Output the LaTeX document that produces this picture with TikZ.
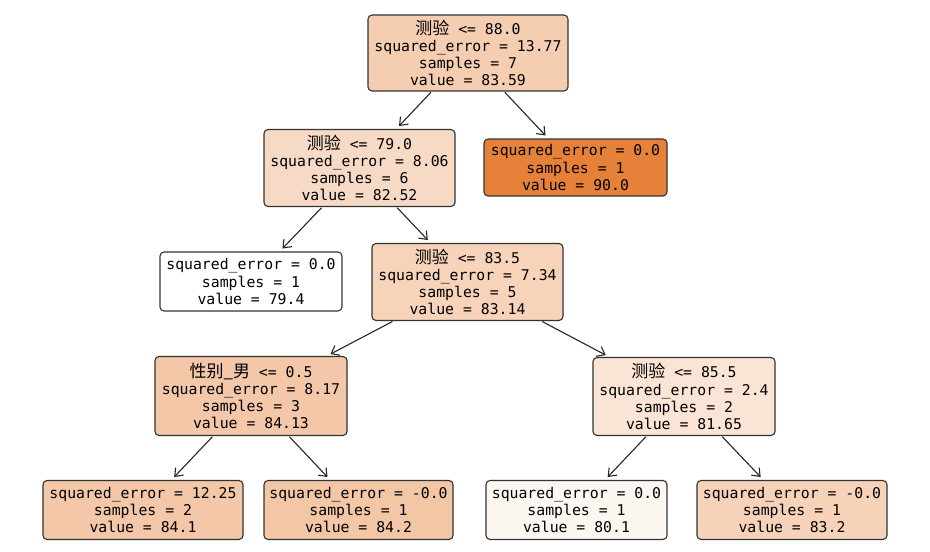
\documentclass[tikz,border=0pt]{standalone}
\usepackage{fontspec}
\setmainfont{DejaVu Sans Mono}
\newfontfamily\cjkfam{Noto Sans CJK SC}
\newcommand{\zh}[1]{{\cjkfam\fontsize{17}{17.2}\selectfont #1}}
\usetikzlibrary{arrows.meta}
\definecolor{cRoot}{HTML}{F5CDB1}
\definecolor{cA}{HTML}{F7DAC5}
\definecolor{cB}{HTML}{E58139}
\definecolor{cC}{HTML}{FFFFFF}
\definecolor{cD}{HTML}{F6D3B9}
\definecolor{cE}{HTML}{F3C7A7}
\definecolor{cF}{HTML}{FAE4D5}
\definecolor{cG}{HTML}{F3C7A7}
\definecolor{cH}{HTML}{F3C6A5}
\definecolor{cI}{HTML}{FDF7F2}
\definecolor{cJ}{HTML}{F6D2B8}
\definecolor{edge}{HTML}{333333}
\tikzset{
  treenode/.style={draw=edge, line width=1.1pt, rounded corners=4pt, inner sep=0pt,
    align=center, font=\fontsize{14.8}{17.2}\selectfont},
  treearrow/.style={-{Straight Barb[length=7pt,width=11pt]}, line width=1.1pt, draw=black!85, shorten >=4pt, shorten <=1pt}
}
\begin{document}
\begin{tikzpicture}[x=1pt,y=-1pt]
\useasboundingbox (0,0) rectangle (930,552);
\node[treenode, fill=cRoot, minimum width=200pt, minimum height=76pt] (root) at (468,53)
  {\zh{测验} <= 88.0\\squared\_error = 13.77\\samples = 7\\value = 83.59};
\node[treenode, fill=cA, minimum width=191pt, minimum height=77pt] (A) at (359.5,168)
  {\zh{测验} <= 79.0\\squared\_error = 8.06\\samples = 6\\value = 82.52};
\node[treenode, fill=cB, minimum width=183pt, minimum height=57pt] (B) at (575.5,167.5)
  {squared\_error = 0.0\\samples = 1\\value = 90.0};
\node[treenode, fill=cC, minimum width=182pt, minimum height=59pt] (C) at (251,281.5)
  {squared\_error = 0.0\\samples = 1\\value = 79.4};
\node[treenode, fill=cD, minimum width=191pt, minimum height=77pt] (D) at (467.5,282)
  {\zh{测验} <= 83.5\\squared\_error = 7.34\\samples = 5\\value = 83.14};
\node[treenode, fill=cE, minimum width=192pt, minimum height=79pt] (E) at (251,396)
  {\zh{性别\_男} <= 0.5\\squared\_error = 8.17\\samples = 3\\value = 84.13};
\node[treenode, fill=cF, minimum width=182pt, minimum height=78pt] (F) at (684,396.5)
  {\zh{测验} <= 85.5\\squared\_error = 2.4\\samples = 2\\value = 81.65};
\node[treenode, fill=cG, minimum width=200pt, minimum height=59pt] (G) at (143,510)
  {squared\_error = 12.25\\samples = 2\\value = 84.1};
\node[treenode, fill=cH, minimum width=189pt, minimum height=59pt] (H) at (358.5,510)
  {squared\_error = -0.0\\samples = 1\\value = 84.2};
\node[treenode, fill=cI, minimum width=181pt, minimum height=59pt] (I) at (576.5,510)
  {squared\_error = 0.0\\samples = 1\\value = 80.1};
\node[treenode, fill=cJ, minimum width=190pt, minimum height=59pt] (J) at (792,510)
  {squared\_error = -0.0\\samples = 1\\value = 83.2};
\draw[treearrow] (root) -- (A);
\draw[treearrow] (root) -- (B);
\draw[treearrow] (A) -- (C);
\draw[treearrow] (A) -- (D);
\draw[treearrow] (D) -- (E);
\draw[treearrow] (D) -- (F);
\draw[treearrow] (E) -- (G);
\draw[treearrow] (E) -- (H);
\draw[treearrow] (F) -- (I);
\draw[treearrow] (F) -- (J);
\end{tikzpicture}
\end{document}
